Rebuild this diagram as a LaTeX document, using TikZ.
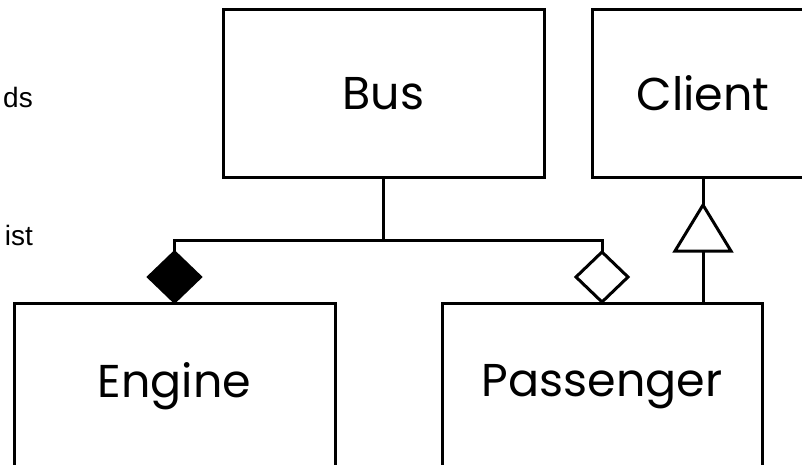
\documentclass[tikz,border=0pt]{standalone}
\usepackage{fontspec}
\setmainfont{Poppins}
\newfontfamily\sidefont{Liberation Sans}
\usetikzlibrary{shapes.geometric}
\tikzset{
  classbox/.style={draw, line width=3pt, rectangle, inner sep=0pt, outer sep=0pt,
    minimum width=321pt, minimum height=167pt, font=\fontsize{46}{55}\selectfont},
  link/.style={line width=3pt},
  agg/.style={draw, line width=3pt, diamond, inner sep=0pt, outer sep=0pt,
    minimum width=52pt, minimum height=50pt, anchor=north},
  sidetext/.style={anchor=base east, inner sep=0pt, font=\sidefont\fontsize{28}{34}\selectfont}
}
\begin{document}
\begin{tikzpicture}[x=1pt, y=-1pt]
\useasboundingbox (0,0) rectangle (802,465);
\clip (0,0) rectangle (802,465);
\fill[white] (0,0) rectangle (802,465);
\node[sidetext] (t1) at (33,108) {ds};
\node[sidetext] (t2) at (33,245) {ist};
\node[classbox] (Bus) at (383.5,93.5) {Bus};
\node[classbox, minimum width=222pt] (Client) at (703,93.5) {Client};
\node[classbox] (Engine) at (174.5,386.5) {Engine};
\node[classbox, minimum width=320pt] (Passenger) at (602,386.5) {Passenger};
\coordinate (junc) at (383.5,240);
\node[agg, fill=black] (d1) at (174.5,252) {};
\node[agg, fill=white] (d2) at (602,252) {};
\draw[link] (Bus.south) -- (junc);
\draw[link] (d1.north) -- (d1.north |- junc) -- (d2.north |- junc) -- (d2.north);
\coordinate (tribase) at (703,251);
\coordinate (triapex) at (703,205);
\draw[link] (Client.south) -- (triapex);
\draw[link, line join=miter] (triapex) -- ([xshift=28pt]tribase) -- ([xshift=-28pt]tribase) -- cycle;
\draw[link] (tribase) -- (Passenger.north -| tribase);
\end{tikzpicture}
\end{document}
